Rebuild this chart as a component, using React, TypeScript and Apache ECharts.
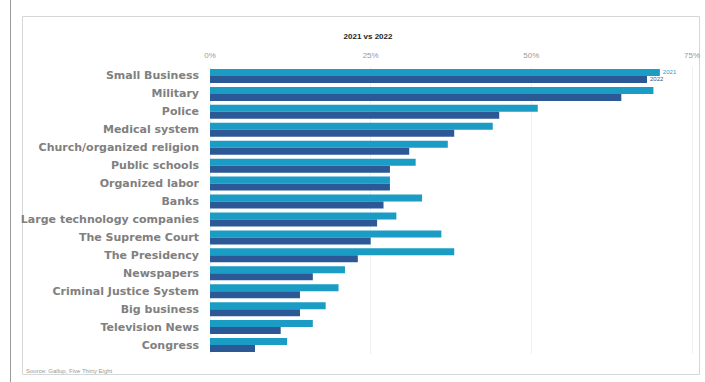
import React, { useEffect, useRef } from "react";
import * as echarts from "echarts";

const categories = [
  "Small Business",
  "Military",
  "Police",
  "Medical system",
  "Church/organized religion",
  "Public schools",
  "Organized labor",
  "Banks",
  "Large technology companies",
  "The Supreme Court",
  "The Presidency",
  "Newspapers",
  "Criminal Justice System",
  "Big business",
  "Television News",
  "Congress",
];
const values2021 = [70, 69, 51, 44, 37, 32, 28, 33, 29, 36, 38, 21, 20, 18, 16, 12];
const values2022 = [68, 64, 45, 38, 31, 28, 28, 27, 26, 25, 23, 16, 14, 14, 11, 7];
const seriesNames = ["2021", "2022"];
const xTicks = [0, 25, 50, 75];

const C2021 = "#1b9cc4";
const C2022 = "#2c5896";

export default function App() {
  const ref = useRef<HTMLDivElement>(null);
  useEffect(() => {
    if (!ref.current) return;
    const chart = echarts.init(ref.current, null, { renderer: "svg" });
    const mk = (vals: number[], name: string, color: string) => ({
      type: "bar",
      name,
      barGap: "0%",
      barCategoryGap: "22%",
      itemStyle: { color },
      data: vals.map((v, i) =>
        i === 0
          ? {
              value: v,
              label: {
                show: true,
                position: "right",
                formatter: name,
                fontSize: 6,
                color: color,
                distance: 3,
                fontFamily: "Liberation Sans",
              },
            }
          : v
      ),
    });
    chart.setOption({
      animation: false,
      backgroundColor: "#ffffff",
      title: {
        text: "2021 vs 2022",
        left: 363,
        top: 27,
        textAlign: "center",
        textStyle: {
          fontSize: 8,
          fontWeight: "bold",
          color: "#222",
          fontFamily: "Liberation Sans",
        },
      },
      graphic: [
        {
          type: "line",
          shape: { x1: 10.5, y1: 0, x2: 10.5, y2: 382 },
          style: { stroke: "#9a9a9a", lineWidth: 1 },
        },
        {
          type: "rect",
          shape: { x: 22.5, y: 16.5, width: 677, height: 358 },
          style: { fill: "none", stroke: "#d6d6d6", lineWidth: 1 },
          z: -1,
        },
        {
          type: "text",
          x: 26,
          y: 368,
          style: {
            text: "Source: Gallup, Five Thirty Eight",
            fontSize: 6,
            fill: "#999",
            fontFamily: "Liberation Sans",
          },
        },
      ],
      grid: { left: 210, right: 13, top: 67, bottom: 28, containLabel: false },
      xAxis: {
        type: "value",
        position: "top",
        min: xTicks[0],
        max: xTicks[xTicks.length - 1],
        interval: 25,
        axisLine: { show: false },
        axisTick: { show: false },
        splitLine: { show: true, lineStyle: { color: "#f0f0f0", width: 1 } },
        axisLabel: {
          formatter: (v: number) => v + "%",
          fontSize: 8,
          color: "#999",
          margin: 8,
          fontFamily: "Liberation Sans",
        },
      },
      yAxis: {
        type: "category",
        data: categories,
        inverse: true,
        axisLine: { show: false },
        axisTick: { show: false },
        axisLabel: {
          fontSize: 11,
          fontWeight: "bold",
          color: "#808080",
          margin: 11,
          fontFamily: "DejaVu Sans",
        },
      },
      series: [mk(values2021, seriesNames[0], C2021), mk(values2022, seriesNames[1], C2022)],
    });
    return () => chart.dispose();
  }, []);
  return (
    <div
      ref={ref}
      style={{ position: "fixed", left: 0, top: 0, width: 705, height: 382 }}
    />
  );
}
